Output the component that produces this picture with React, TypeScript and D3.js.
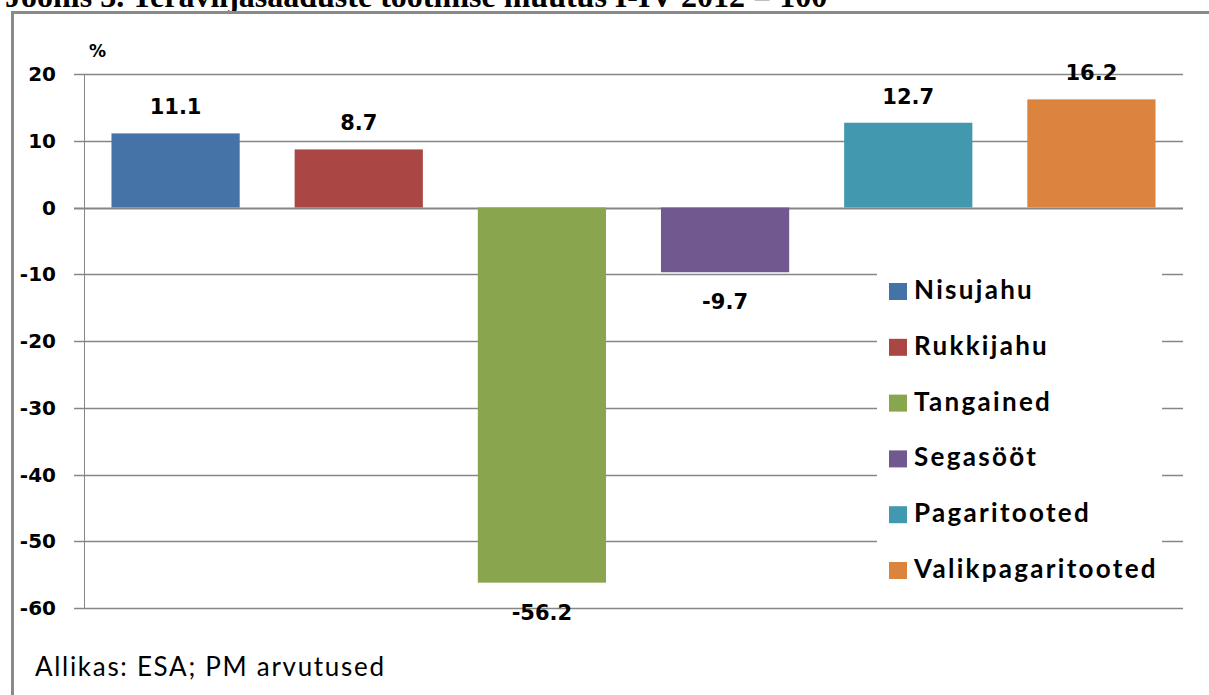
import * as d3 from "d3";
import { useEffect, useRef } from "react";

const width = 1209,
  height = 695,
  marginTop = 74,
  marginRight = 26,
  marginBottom = 87,
  marginLeft = 84;

const categories = [
  "Nisujahu",
  "Rukkijahu",
  "Tangained",
  "Segasööt",
  "Pagaritooted",
  "Valikpagaritooted",
];
const values = [11.1, 8.7, -56.2, -9.7, 12.7, 16.2];
const colors = ["#4572A7", "#AA4643", "#89A54E", "#71588F", "#4198AF", "#DB843D"];
const yTicks = [20, 10, 0, -10, -20, -30, -40, -50, -60];

const title = "Joonis 3. Teraviljasaaduste tootmise muutus I-IV 2012 = 100";
const source = "Allikas: ESA; PM arvutused";

export default function App() {
  const ref = useRef<SVGSVGElement | null>(null);

  useEffect(() => {
    if (!ref.current) return;
    const svg = d3.select(ref.current);
    svg.selectAll("*").remove();

    const x = d3
      .scaleBand<string>()
      .domain(categories)
      .range([marginLeft, width - marginRight])
      .paddingInner(0.3)
      .paddingOuter(0.15);

    const y = d3.scaleLinear([-60, 20], [height - marginBottom, marginTop]);

    // title, cut off by the page top like in the source image
    svg
      .append("text")
      .attr("x", 5)
      .attr("y", 7)
      .attr("font-family", "Liberation Serif")
      .attr("font-weight", "bold")
      .attr("font-size", 32)
      .text(title);

    // frame
    svg
      .append("path")
      .attr("d", `M12.5,${height} V12.5 H${width}`)
      .attr("fill", "none")
      .attr("stroke", "#8a8a8a")
      .attr("stroke-width", 3);

    // grid lines + ticks
    const grid = svg.append("g");
    grid
      .selectAll("line")
      .data(yTicks)
      .join("line")
      .attr("x1", marginLeft - 10)
      .attr("x2", width - marginRight)
      .attr("y1", (d) => Math.round(y(d)) + 0.5)
      .attr("y2", (d) => Math.round(y(d)) + 0.5)
      .attr("stroke", "#868686")
      .attr("stroke-width", (d) => (d === 0 ? 2 : 1.5));

    grid
      .selectAll("text")
      .data(yTicks)
      .join("text")
      .attr("x", 56)
      .attr("y", (d) => y(d) + 7)
      .attr("text-anchor", "end")
      .attr("font-family", "DejaVu Sans")
      .attr("font-weight", "bold")
      .attr("font-size", 20)
      .attr("fill", "#000")
      .text((d) => d);

    // y axis line
    svg
      .append("line")
      .attr("x1", marginLeft + 0.5)
      .attr("x2", marginLeft + 0.5)
      .attr("y1", y(20))
      .attr("y2", y(-60))
      .attr("stroke", "#868686")
      .attr("stroke-width", 1);

    svg
      .append("text")
      .attr("x", 89)
      .attr("y", 57)
      .attr("font-family", "DejaVu Sans")
      .attr("font-weight", "bold")
      .attr("font-size", 17)
      .text("%");

    // bars
    svg
      .append("g")
      .selectAll("rect")
      .data(values)
      .join("rect")
      .attr("x", (_, i) => x(categories[i])!)
      .attr("width", x.bandwidth())
      .attr("y", (d) => y(Math.max(0, d)))
      .attr("height", (d) => Math.abs(y(d) - y(0)))
      .attr("fill", (_, i) => colors[i]);

    // value labels
    svg
      .append("g")
      .selectAll("text")
      .data(values)
      .join("text")
      .attr("x", (_, i) => x(categories[i])! + x.bandwidth() / 2)
      .attr("y", (d) => (d >= 0 ? y(d) - 19 : y(d) + 37))
      .attr("text-anchor", "middle")
      .attr("font-family", "DejaVu Sans")
      .attr("font-weight", "bold")
      .attr("font-size", 21)
      .text((d) => d.toFixed(1));

    // legend
    const legend = svg.append("g");
    legend
      .append("rect")
      .attr("x", 877)
      .attr("y", 262)
      .attr("width", 285)
      .attr("height", 336)
      .attr("fill", "#fff");
    const item = legend
      .selectAll("g")
      .data(categories)
      .join("g")
      .attr("transform", (_, i) => `translate(889,${283 + i * 55.8})`);
    item
      .append("rect")
      .attr("width", 18)
      .attr("height", 17)
      .attr("fill", (_, i) => colors[i]);
    item
      .append("text")
      .attr("x", 25)
      .attr("y", 16)
      .attr("font-family", "Lato")
      .attr("font-weight", "bold")
      .attr("font-size", 26)
      .attr("letter-spacing", 2.3)
      .text((d) => d);

    svg
      .append("text")
      .attr("x", 35)
      .attr("y", 676)
      .attr("font-family", "Lato")
      .attr("font-size", 26)
      .attr("letter-spacing", 1.7)
      .text(source);
  }, []);

  return (
    <div style={{ position: "absolute", left: 0, top: 0 }}>
      <svg ref={ref} width={width} height={height} style={{ display: "block", background: "#fff" }} />
    </div>
  );
}
